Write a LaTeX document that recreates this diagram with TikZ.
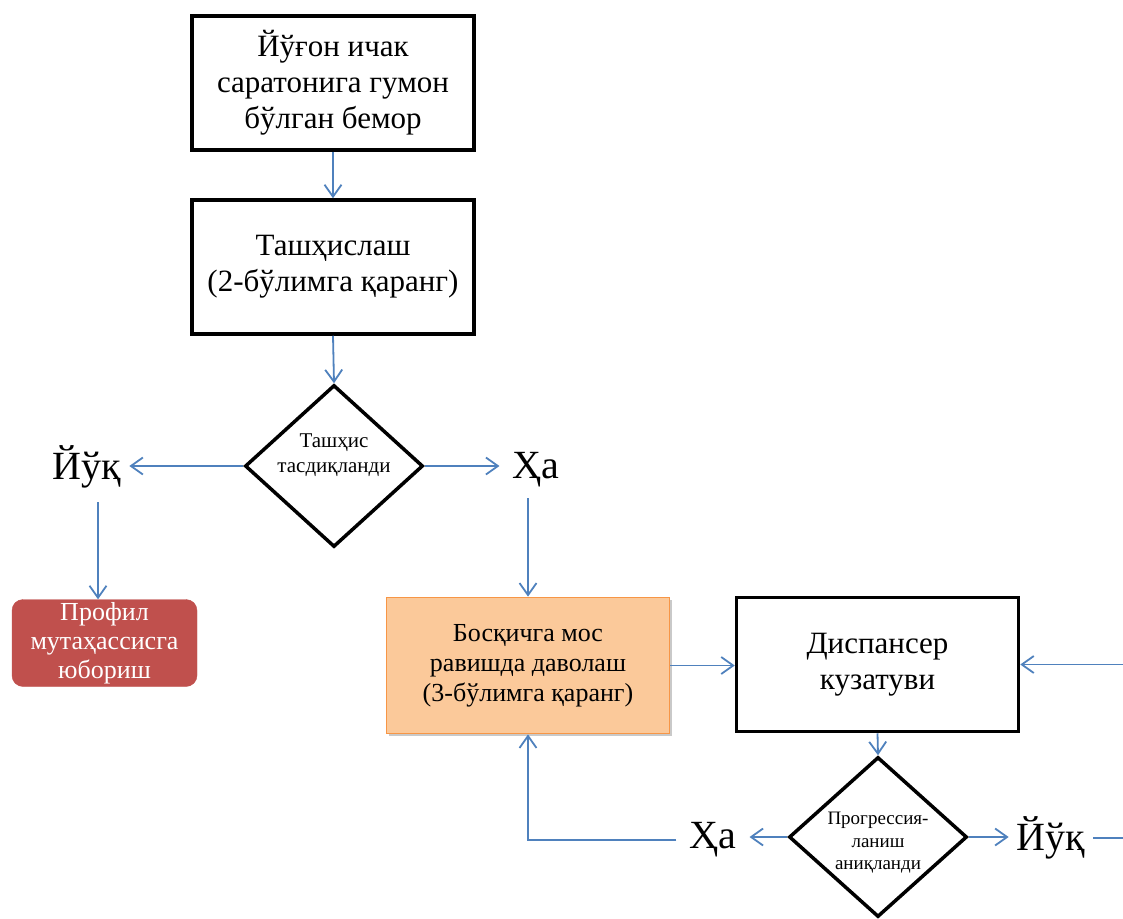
\documentclass[tikz,border=0pt]{standalone}
\usepackage{fontspec}
\setmainfont{Liberation Serif}
\usetikzlibrary{arrows.meta,shapes.geometric,shadows}
\definecolor{arrblue}{HTML}{4F81BD}
\definecolor{orfill}{HTML}{FBC99A}
\definecolor{ordraw}{HTML}{F79646}
\definecolor{redbox}{HTML}{C0504D}
\begin{document}
\begin{tikzpicture}[x=1pt,y=-1pt,
  box/.style={draw,line width=3.5pt,minimum width=282,minimum height=134,align=center,inner sep=0pt},
  dia/.style={draw,diamond,line width=3.5pt,inner sep=0pt},
  arr/.style={draw=arrblue,line width=1.8pt,-{Straight Barb[length=12pt,width=17pt]}},
  lab/.style={font=\fontsize{40}{46}\selectfont,inner xsep=8pt,inner ysep=2pt},
  labha/.style={lab,inner xsep=13pt},
  bigtxt/.style={font=\fontsize{31}{36}\selectfont},
  midtxt/.style={font=\fontsize{26}{30}\selectfont},
  smalltxt/.style={align=center,inner sep=0pt},
]
\useasboundingbox (0,0) rectangle (1123,918);

% boxes
\node[box,bigtxt] (b1) at (333,83) {Йўғон ичак\\саратонига гумон\\бўлган бемор};
\node[box,bigtxt] (b2) at (333,267) {Ташҳислаш\\ (2-бўлимга қаранг)};

% diamond 1
\node[dia,minimum width=178,minimum height=162] (d1) at (334,466) {};
\node[smalltxt,font=\fontsize{21}{25}\selectfont] (d1t) at (334,455) {Ташҳис\\тасдиқланди};

% labels
\node[lab] (no1) at (87,467) {Йўқ};
\node[labha] (yes1) at (536,470) {Ҳа};

% red box
\node[draw=redbox,fill=redbox,rounded corners=11pt,minimum width=185,minimum height=87,
      text=white,align=center,inner sep=0pt,font=\fontsize{26}{29}\selectfont] (red) at (104.5,643) {Профил\\мутаҳассисга\\юбориш};

% orange box
\node[draw=ordraw,fill=orfill,line width=1.8pt,minimum width=283,minimum height=136,align=center,inner sep=0pt,
      midtxt,drop shadow={shadow xshift=2pt,shadow yshift=-2pt,opacity=0.3,fill=black!70}] (or) at (528,665.5)
      {Босқичга мос\\равишда даволаш\\(3-бўлимга қаранг)};

% dispanser
\node[box,bigtxt] (disp) at (877.5,664.5) {Диспансер\\кузатуви};

% diamond 2
\node[dia,minimum width=178,minimum height=160] (d2) at (878,837) {};
\node[smalltxt,font=\fontsize{19}{22.5}\selectfont] (d2t) at (878,843) {Прогрессия-\\ланиш\\аниқланди};

\node[labha] (yes2) at (713,840) {Ҳа};
\node[lab] (no2) at (1051,838) {Йўқ};

% connectors
\draw[arr] (b1.south) -- (b2.north);
\draw[arr] (b2.south) -- (d1.north);
\draw[arr] (d1.west) -- (d1.west -| no1.east);
\draw[arr] (d1.east) -- (d1.east -| yes1.west);
\coordinate (c1) at (98,502);
\draw[arr] (c1) -- (c1 |- red.north);
\coordinate (c2) at (528,498);
\draw[arr] (c2) -- (c2 |- or.north);
\draw[arr] (or.east) -- (or.east -| disp.west);
\draw[arr] (disp.south) -- (d2.north);
\draw[arr] (d2.west) -- (d2.west -| yes2.east);
\draw[arr] (d2.east) -- (d2.east -| no2.west);
\draw[arr] (yes2.west) -- (yes2.west -| or.south) -- (or.south);
\coordinate (rt) at (1140,838);
\draw[arr] (no2.east) -- (rt) |- (disp.east);
\end{tikzpicture}
\end{document}
